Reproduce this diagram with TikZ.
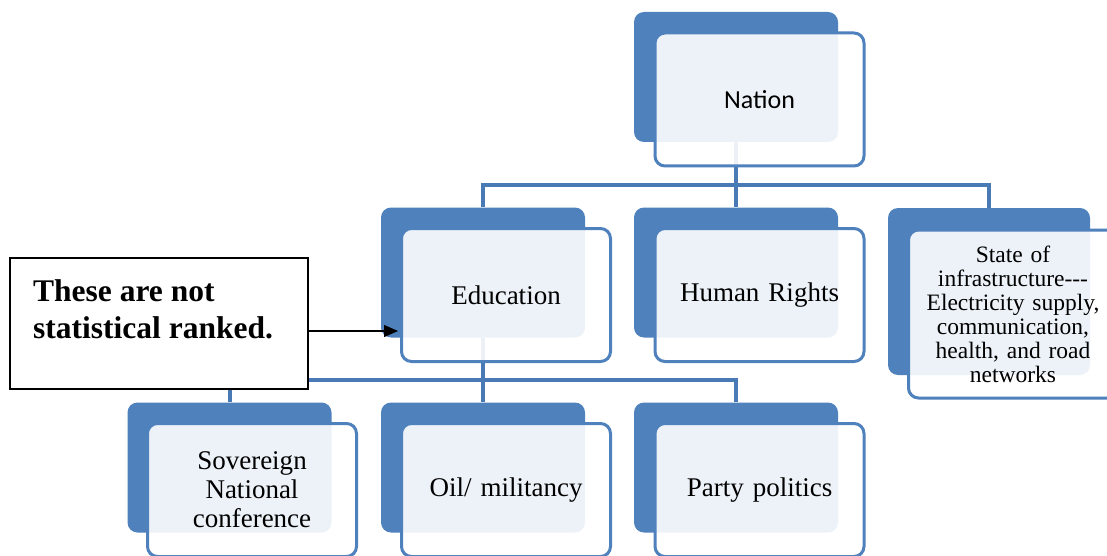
\documentclass[tikz,border=0pt]{standalone}
\usepackage{fontspec}
\setmainfont{Liberation Serif}
\newfontfamily\calib{Carlito}
\usetikzlibrary{arrows.meta}
\definecolor{boxblue}{HTML}{4F81BD}
\definecolor{busblue}{HTML}{4A7AB5}
\begin{document}
\begin{tikzpicture}[x=1pt,y=-1pt,
	backbox/.style={draw=none, fill=boxblue, rounded corners=10pt, minimum width=204pt, minimum height=130pt, inner sep=0pt},
	frontbox/.style={draw=boxblue, line width=3pt, fill=white, fill opacity=0.9, text opacity=1, rounded corners=10pt, minimum width=209pt, minimum height=133pt, inner sep=0pt, text width=200pt, align=center},
	bus/.style={draw=busblue, line width=4pt},
	bigtxt/.style={font=\fontsize{27}{29}\selectfont},
	pointer/.style={draw=black, line width=1.2pt, -{Triangle[length=14pt,width=12pt]}}]
	\useasboundingbox (0,0) rectangle (1107,556);
	\node[fill=white] (bg) at (553.5,278) [minimum width=1107pt, minimum height=556pt, inner sep=0pt] {};
			% back plates
			\node	(nationb) at (736,77) [backbox] {};
			\node	(educb) at (483,272.5) [backbox] {};
			\node	(humanb) at (736,272.5) [backbox] {};
			\node	(infrab) at (989,291.5) [backbox, minimum width=202pt, minimum height=167pt] {};
			\node	(soverb) at (229.5,467.5) [backbox] {};
			\node	(oilb) at (483,467.5) [backbox] {};
			\node	(partyb) at (736,467.5) [backbox] {};

			% connectors
			\coordinate (topbus) at (736,185);
			\coordinate (lowbus) at (483,380);
			\draw[bus] (nationb.south) -- (topbus);
			\draw[bus] (educb.north) |- (topbus) -| (infrab.north);
			\draw[bus] (topbus) -- (humanb.north);
			\draw[bus] (educb.south) -- (lowbus);
			\draw[bus] (soverb.north) |- (lowbus) -| (partyb.north);
			\draw[bus] (lowbus) -- (oilb.north);

			% front plates
			\node	(nationf) at (759.5,99.5) [frontbox, font=\calib\fontsize{26}{28}\selectfont] {Nation};
			\node	(educf) at (506,295) [frontbox, bigtxt] {Education};
			\node	(humanf) at (759.5,295) [frontbox, bigtxt] {Human Rights};
			\node	(infraf) at (1013,314) [frontbox, minimum height=168pt, font=\fontsize{23.5}{24}\selectfont] {State of\\infrastructure{-}{-}{-}\\Electricity supply,\\communication,\\health, and road\\networks};
			\node	(soverf) at (252,490) [frontbox, bigtxt] {Sovereign\\National\\conference};
			\node	(oilf) at (506,490) [frontbox, bigtxt] {Oil/ militancy};
			\node	(partyf) at (759.5,490) [frontbox, bigtxt] {Party politics};

			% note
			\node	(callout) at (159,323.5) [draw=black, line width=1.5pt, fill=white, minimum width=298pt, minimum height=131pt, inner sep=0pt] {};
			\node	(calltxt) at (33,279) [anchor=north west, inner sep=0pt, align=left, font=\bfseries\fontsize{31.5}{37}\selectfont] {These are not\\statistical ranked.};
			\coordinate (ptr) at (398,331);
			\draw[pointer] (callout.east |- ptr) -- (ptr);
\end{tikzpicture}
\end{document}
